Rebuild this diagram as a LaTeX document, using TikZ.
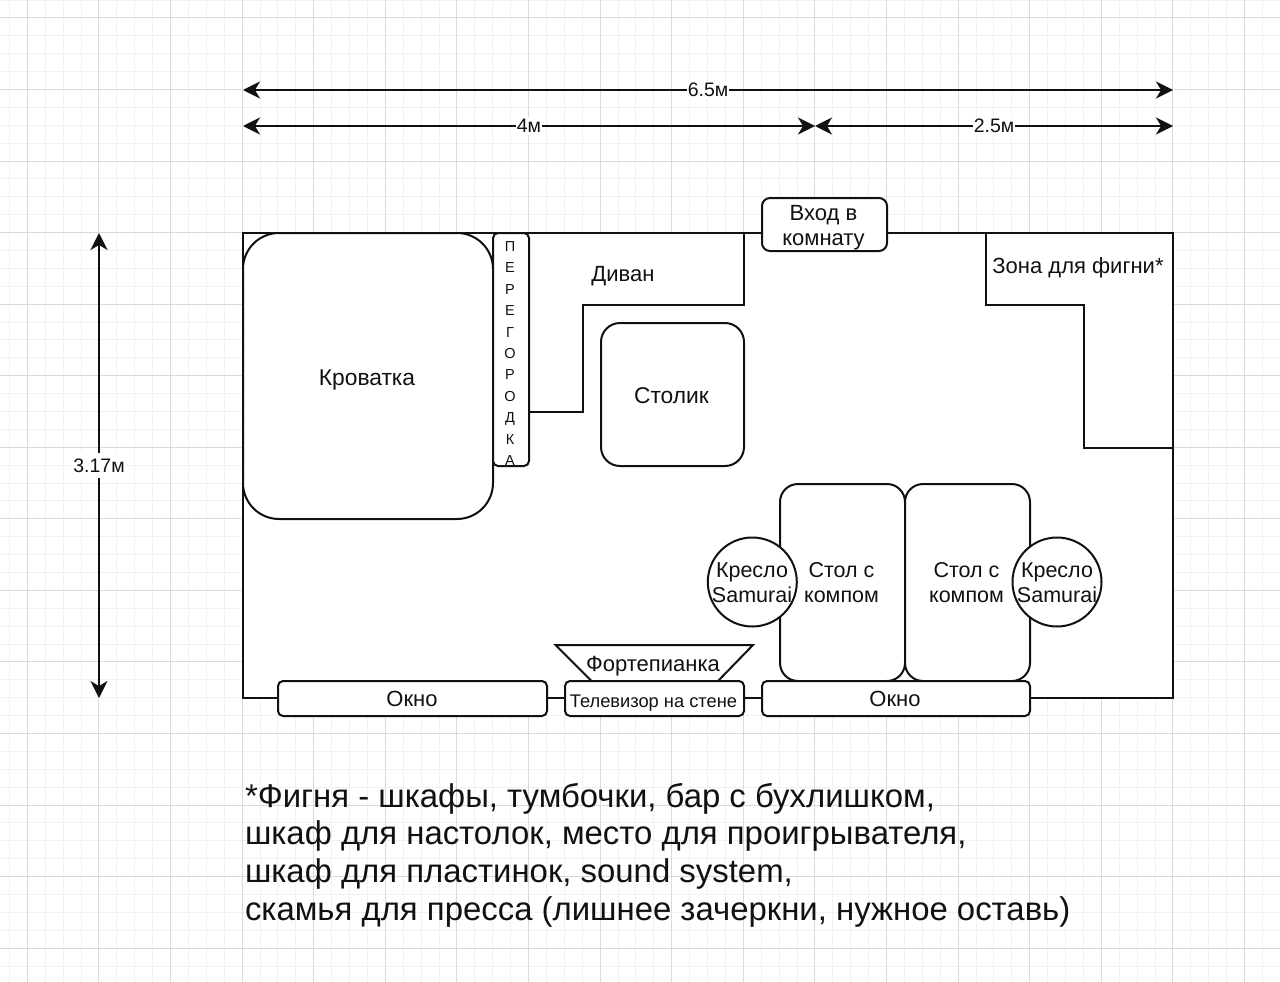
\documentclass[tikz,border=0pt]{standalone}
\usepackage{fontspec}
\setmainfont{Liberation Sans}
\usetikzlibrary{arrows.meta}
\definecolor{ink}{HTML}{111111}
\definecolor{gridmajor}{HTML}{DADADA}
\definecolor{gridminor}{HTML}{F1F1F1}
\newcommand{\fs}[2]{\fontsize{#1}{#2}\selectfont}
\tikzset{
  every node/.style={inner sep=0pt,outer sep=0pt,text=ink},
  wall/.style={draw=ink,line width=2pt,fill=white},
  block/.style={wall,rounded corners=#1},
  block/.default=6pt,
  labelbig/.style={font=\fs{22.8}{25},align=center},
  labelmid/.style={font=\fs{22}{25},align=center},
  labelchair/.style={font=\fs{21.5}{25},align=center},
  labelsmall/.style={font=\fs{18.3}{20},align=center},
  dim/.style={draw=ink,line width=2pt,{Stealth[length=17pt,width=17pt,inset=5pt]}-{Stealth[length=17pt,width=17pt,inset=5pt]}},
  dimlabel/.style={fill=white,font=\fs{19.5}{22},inner xsep=1pt,inner ysep=2pt},
  line/.style={draw=ink,line width=2pt,line join=miter}
}
\begin{document}
\begin{tikzpicture}[x=1pt,y=-1pt]
\useasboundingbox (0,0) rectangle (1280,982);
\fill[white] (0,0) rectangle (1280,982);
% grid
\begin{scope}
\clip (0,0) rectangle (1280,982);
\foreach \k in {-2,...,70}{
  \pgfmathsetmacro{\gx}{27.3+17.9*\k}
  \draw[gridminor,line width=1pt] (\gx,0) -- (\gx,982);
}
\foreach \k in {-2,...,55}{
  \pgfmathsetmacro{\gy}{18+17.8875*\k}
  \draw[gridminor,line width=1pt] (0,\gy) -- (1280,\gy);
}
\foreach \k in {0,...,17}{
  \pgfmathsetmacro{\gx}{27.3+71.6*\k}
  \draw[gridmajor,line width=1pt] (\gx,0) -- (\gx,982);
}
\foreach \k in {0,...,13}{
  \pgfmathsetmacro{\gy}{18+71.55*\k}
  \draw[gridmajor,line width=1pt] (0,\gy) -- (1280,\gy);
}
\end{scope}
% room
\node[wall,minimum width=930pt,minimum height=465pt] (room) at (708,465.5) {};
% dimension arrows
\coordinate (ta) at (243,90); \coordinate (tb) at (1173,90);
\coordinate (ma) at (243,126); \coordinate (mb) at (815,126); \coordinate (mc) at (1173,126);
\coordinate (va) at (99,233); \coordinate (vb) at (99,698);
\draw[dim] (ta) -- node[dimlabel] (l65) {6.5м} (tb);
\draw[dim] (ma) -- node[dimlabel] (l4) {4м} (mb);
\draw[dim] (mb) -- node[dimlabel] (l25) {2.5м} (mc);
\draw[dim] (va) -- node[dimlabel,inner ysep=6pt] (l317) {3.17м} (vb);
% furniture
\node[block=36pt,minimum width=250pt,minimum height=286pt] (bed) at (368,376) {};
\node[labelbig] (bedt) at (367,380) {Кроватка};
\node[block=5pt,minimum width=36pt,minimum height=233pt] (part) at (511,349.5) {};
\node[font=\fs{14.5}{21.45},align=center] (parttext) at (510,353.5)
  {П\\Е\\Р\\Е\\Г\\О\\Р\\О\\Д\\К\\А};
\coordinate (d1) at (part.east |- 0,412);
\coordinate (d2) at (583,412);
\coordinate (d3) at (583,305);
\coordinate (d4) at (744,305);
\coordinate (d5) at (744,233);
\draw[line] (d1) -- (d2) -- (d3) -- (d4) -- (d5);
\node[labelmid] (divan) at (623,276) {Диван};
\node[block=19pt,minimum width=143pt,minimum height=143pt] (table) at (672.5,394.5) {};
\node[labelbig] (tablet) at (671.5,396) {Столик};
\node[block=8pt,minimum width=125pt,minimum height=53pt] (door) at (824.5,224.5) {};
\node[labelmid] (doortext) at (823.5,227.5) {Вход в\\комнату};
\coordinate (z1) at (986,233); \coordinate (z2) at (986,305); \coordinate (z3) at (1084,305);
\coordinate (z4) at (1084,448); \coordinate (z5) at (1173,448);
\draw[line] (z1) -- (z2) -- (z3) -- (z4) -- (z5);
\node[labelmid] (zone) at (1078,268) {Зона для фигни*};
\node[block=18pt,minimum width=125pt,minimum height=197pt] (desk1) at (842.5,582.5) {};
\node[block=18pt,minimum width=125pt,minimum height=197pt] (desk2) at (967.5,582.5) {};
\node[labelchair] (desk1t) at (841.5,583) {Стол с\\компом};
\node[labelchair] (desk2t) at (966.5,583) {Стол с\\компом};
\node[wall,circle,minimum size=89pt] (chair1) at (752.3,582) {};
\node[wall,circle,minimum size=89pt] (chair2) at (1057,582) {};
\node[labelchair] (chair1t) at (752,583) {Кресло\\Samurai};
\node[labelchair] (chair2t) at (1057,583) {Кресло\\Samurai};
% piano
\coordinate (p1) at (555.5,645); \coordinate (p2) at (753,645);
\coordinate (p3) at (718,681); \coordinate (p4) at (591.5,681);
\draw[wall,line join=miter] (p1) -- (p2) -- (p3) -- (p4) -- cycle;
\node[labelmid] (piano) at (653,666) {Фортепианка};
% wall-mounted things
\node[block=5pt,minimum width=269pt,minimum height=35pt] (win1) at (412.5,698.5) {};
\node[labelmid] (win1t) at (412,698.5) {Окно};
\node[block=5pt,minimum width=179pt,minimum height=35pt] (tv) at (654.5,698.5) {};
\node[labelsmall] (tvt) at (653.5,703.5) {Телевизор на стене};
\node[block=5pt,minimum width=268pt,minimum height=35pt] (win2) at (896,698.5) {};
\node[labelmid] (win2t) at (895,698.5) {Окно};
% note
\node[anchor=north west,font=\fs{32.9}{37.7},align=left] (note) at (245,783)
 {*Фигня - шкафы, тумбочки, бар с бухлишком,\\
  шкаф для настолок, место для проигрывателя,\\
  шкаф для пластинок, sound system,\\
  скамья для пресса (лишнее зачеркни, нужное оставь)};
\end{tikzpicture}
\end{document}
